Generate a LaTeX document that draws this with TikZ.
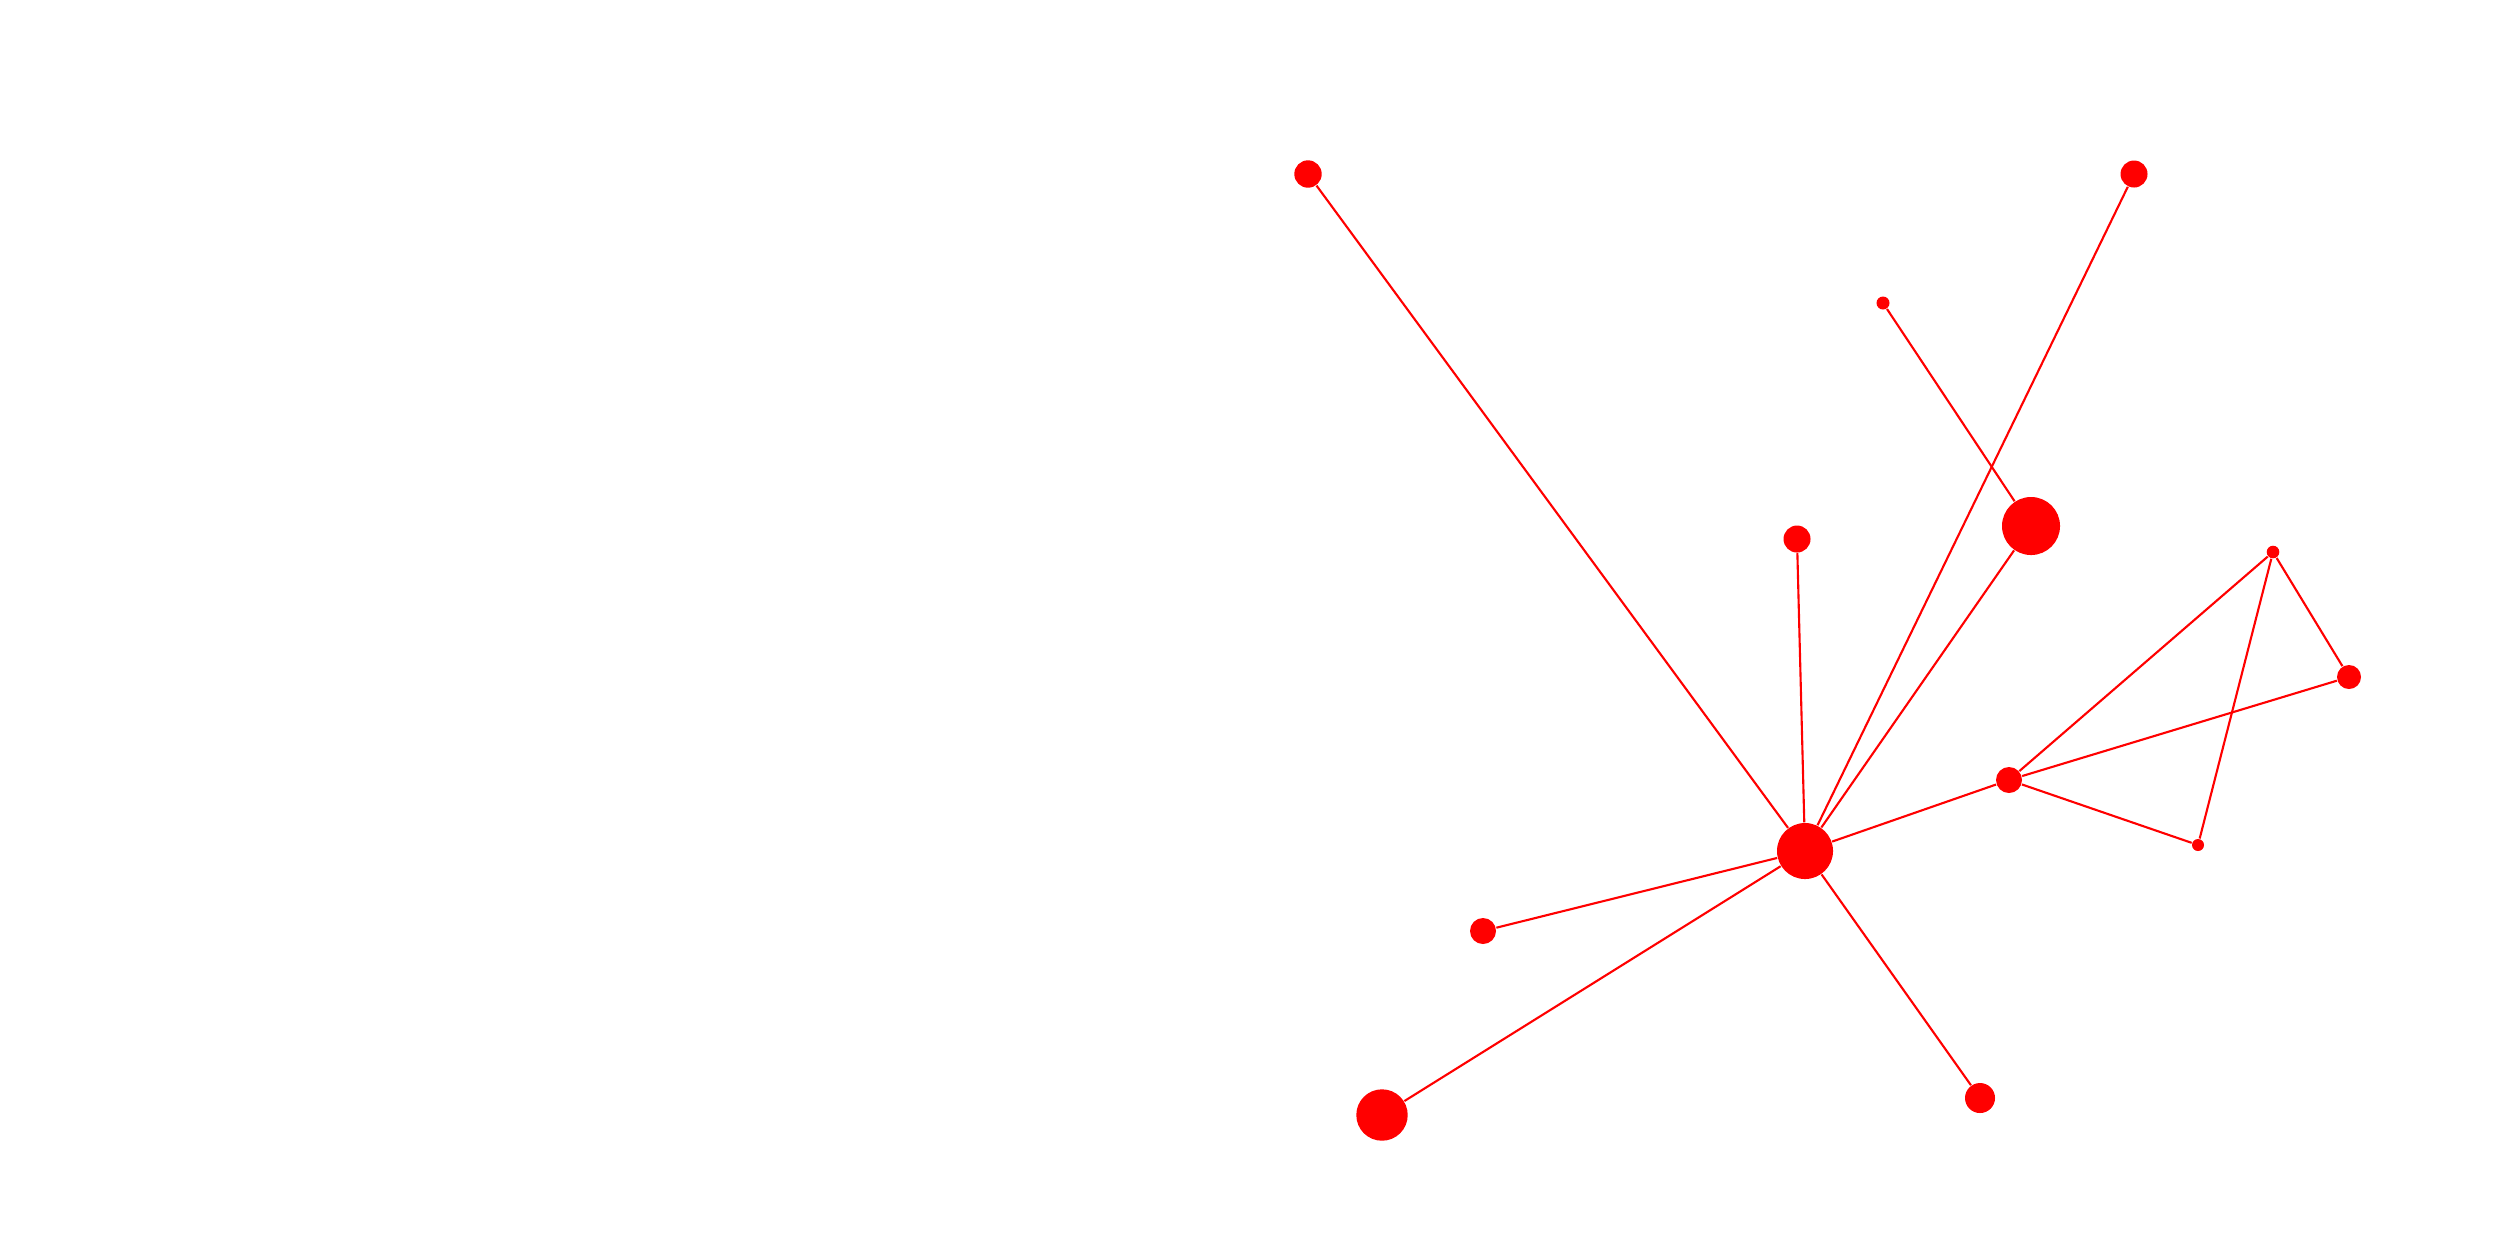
\documentclass[tikz,border=0pt]{standalone}
\begin{document}
\begin{tikzpicture}[x=0.01cm,y=-0.01cm,
  nd/.style={circle,fill=red,draw=none,inner sep=0pt},
  ed/.style={draw=red,line width=0.6pt}]
\useasboundingbox (0,0) rectangle (2500,1250);
\node[nd,minimum size=0.274cm] (A) at (1308,174) {};
\node[nd,minimum size=0.27cm] (B) at (2134,174) {};
\node[nd,minimum size=0.13cm] (C) at (1883,303) {};
\node[nd,minimum size=0.58cm] (D) at (2031,526) {};
\node[nd,minimum size=0.27cm] (E) at (1797,539) {};
\node[nd,minimum size=0.126cm] (F) at (2273,552) {};
\node[nd,minimum size=0.24cm] (G) at (2349,677) {};
\node[nd,minimum size=0.26cm] (H) at (2009,780) {};
\node[nd,minimum size=0.56cm] (I) at (1805,851) {};
\node[nd,minimum size=0.12cm] (J) at (2198,845) {};
\node[nd,minimum size=0.26cm] (K) at (1483,931) {};
\node[nd,minimum size=0.514cm] (L) at (1382,1115) {};
\node[nd,minimum size=0.3cm] (M) at (1980,1098) {};
\path[ed] (A) -- (I);
\path[ed] (B) -- (I);
\path[ed] (C) -- (D);
\path[ed] (D) -- (I);
\path[ed] (E) -- (I);
\path[ed] (F) -- (H);
\path[ed] (F) -- (G);
\path[ed] (F) -- (J);
\path[ed] (G) -- (H);
\path[ed] (H) -- (J);
\path[ed] (H) -- (I);
\path[ed] (K) -- (I);
\path[ed] (L) -- (I);
\path[ed] (M) -- (I);
\end{tikzpicture}
\end{document}
